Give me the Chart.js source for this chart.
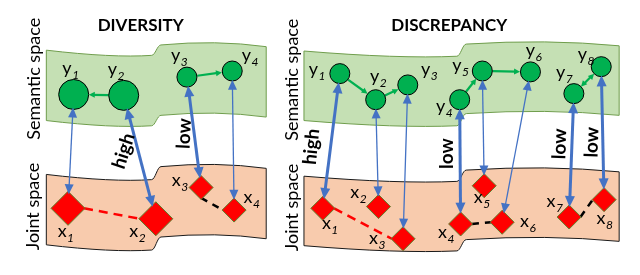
<!DOCTYPE html>
<html><head><meta charset="utf-8">
<script src="https://cdn.jsdelivr.net/npm/chart.js@4.4.1/dist/chart.umd.min.js"></script>
<style>html,body{margin:0;padding:0;background:#fff;}#wrap{width:640px;height:275px;}</style>
</head><body><div id="wrap"><canvas id="c" width="640" height="275"></canvas></div>
<script>
// ---------------- data ----------------
const panelTitles = ['DIVERSITY', 'DISCREPANCY'];
const spaceNames = ['Semantic space', 'Joint space'];

// DIVERSITY panel
const divNodeIds = ['1', '2', '3', '4'];
const divCircleX = [59, 112, 179, 227];
const divCircleY = [88, 89, 68, 61];
const divCircleR = [15, 15, 10, 10];
const divDiamondX = [53, 146, 194, 229];
const divDiamondY = [219, 231, 195, 221];
const divDiamondS = [17, 17, 12, 12];
const divStrength = [null, 'high', 'low', null];
const divSemanticLinks = [[1, 0, false], [2, 3, false]];
const divJointLinks = [[0, 'r', 1, 'l', 'red'], [2, 'b', 3, 'l', 'black']];

// DISCREPANCY panel
const disNodeIds = ['1', '2', '3', '4', '5', '6', '7', '8'];
const disCircleX = [341, 379, 413, 468, 492, 543, 589, 618];
const disCircleY = [64, 94, 77, 94, 61, 62, 87, 56];
const disCircleR = [10, 10, 10, 10, 10, 10, 10, 10];
const disDiamondX = [323, 382, 408, 469, 494, 513, 584, 621];
const disDiamondY = [219, 217, 254, 237, 193, 235, 229, 209];
const disDiamondS = [12, 12, 12, 12, 12, 12, 12, 12];
const disStrength = ['high', null, null, 'low', null, null, 'low', 'low'];
const disSemanticLinks = [[0, 1, false], [1, 2, false], [3, 4, false], [4, 5, false], [6, 7, true]];
const disJointLinks = [[0, 'r', 2, 'l', 'red'], [3, 'r', 5, 'l', 'black'], [6, 'r', 7, 'l', 'black']];

// ---------------- layout (positions of text / bands) ----------------
const divYLabelPos = [[47, 64], [95, 66], [162, 49], [237, 49]];
const divXLabelPos = [[42, 252], [118, 252], [163, 193], [239, 213]];
const disYLabelPos = [[308, 66], [373, 74], [427, 66], [443, 108], [460, 61], [538, 44], [570, 69], [593, 48]];
const disXLabelPos = [[322, 243], [352, 207], [372, 260], [445, 253], [483, 213], [532, 241], [560, 218], [613, 237]];
const divStrengthPos = {1: [112, 153, -72], 2: [176, 133, -87]};
const disStrengthPos = {0: [311, 148, -84], 3: [454, 156, -90], 6: [574, 145, -88], 7: [608, 143, -88]};
const titlePos = [[130, 9], [457, 9]];
const sidePos = [[[17, 70], [16, 217]], [[290, 71], [290, 218]]];

const bands = [
  {x0: 30, x1: 263, yL: 37, yR: 33, h: 81, fill: '#c5e0b4', stroke: '#6f9d4c'},
  {x0: 303, x1: 637, yL: 38, yR: 32, h: 80, fill: '#c5e0b4', stroke: '#6f9d4c'},
  {x0: 30, x1: 263, yL: 180, yR: 173, h: 81, fill: '#f8cbad', stroke: '#1a1a1a'},
  {x0: 303, x1: 637, yL: 182, yR: 177, h: 80, fill: '#f8cbad', stroke: '#1a1a1a'}
];

const FONT = 'Lato, "Open Sans", "Noto Sans", sans-serif';
const BLUE = '#4472c4', GREEN = '#00b050';

// ---------------- build datasets ----------------
const panels = [
  {cx: divCircleX, cy: divCircleY, cr: divCircleR, dx: divDiamondX, dy: divDiamondY, ds: divDiamondS,
   strength: divStrength, sem: divSemanticLinks, joint: divJointLinks},
  {cx: disCircleX, cy: disCircleY, cr: disCircleR, dx: disDiamondX, dy: disDiamondY, ds: disDiamondS,
   strength: disStrength, sem: disSemanticLinks, joint: disJointLinks}
];

function unit(ax, ay, bx, by) { const dx = bx - ax, dy = by - ay, l = Math.hypot(dx, dy); return [dx / l, dy / l]; }
function vertex(x, y, s, k) { return k === 'r' ? [x + s, y] : k === 'l' ? [x - s, y] : k === 'b' ? [x, y + s] : [x, y - s]; }

const datasets = [];
panels.forEach(p => {
  datasets.push({
    data: p.cx.map((x, i) => ({x: x, y: p.cy[i]})), pointStyle: 'circle', pointRadius: p.cr,
    backgroundColor: GREEN, borderColor: '#000', borderWidth: 1, order: 0, clip: false
  });
  datasets.push({
    data: p.dx.map((x, i) => ({x: x, y: p.dy[i]})), pointStyle: 'rectRot', pointRadius: p.ds,
    backgroundColor: '#ff0000', borderColor: '#5f7f2c', borderWidth: 1, order: 0, clip: false
  });
  // blue double-headed arrows between semantic and joint nodes
  p.cx.forEach((_, i) => {
    const [ux, uy] = unit(p.cx[i], p.cy[i], p.dx[i], p.dy[i]);
    const sx = p.cx[i] + ux * p.cr[i], sy = p.cy[i] + uy * p.cr[i];
    const t = p.ds[i] / (Math.abs(ux) + Math.abs(uy));
    const ex = p.dx[i] - ux * t, ey = p.dy[i] - uy * t;
    const thick = !!p.strength[i];
    const hl = thick ? 11 : 10, hw = thick ? 10 : 9;
    datasets.push({
      showLine: true, pointRadius: 0, order: 1, clip: false, tension: 0,
      borderColor: BLUE, borderWidth: thick ? 3 : 1.3,
      data: [{x: sx + ux * hl * 0.8, y: sy + uy * hl * 0.8}, {x: ex - ux * hl * 0.8, y: ey - uy * hl * 0.8}],
      arrowHeads: [[sx, sy, -ux, -uy, hl, hw, BLUE], [ex, ey, ux, uy, hl, hw, BLUE]]
    });
  });
  // green arrows in semantic space
  p.sem.forEach(([a, b, dbl]) => {
    const [ux, uy] = unit(p.cx[a], p.cy[a], p.cx[b], p.cy[b]);
    const sx = p.cx[a] + ux * (p.cr[a] + 1), sy = p.cy[a] + uy * (p.cr[a] + 1);
    const ex = p.cx[b] - ux * (p.cr[b] + 1), ey = p.cy[b] - uy * (p.cr[b] + 1);
    const hl = 6, hw = 6;
    const heads = [[ex, ey, ux, uy, hl, hw, GREEN]];
    if (dbl) heads.push([sx, sy, -ux, -uy, hl, hw, GREEN]);
    datasets.push({
      showLine: true, pointRadius: 0, order: 1, clip: false, tension: 0,
      borderColor: GREEN, borderWidth: 2.2,
      data: [{x: dbl ? sx + ux * hl * 0.7 : sx, y: dbl ? sy + uy * hl * 0.7 : sy}, {x: ex - ux * hl * 0.7, y: ey - uy * hl * 0.7}],
      arrowHeads: heads
    });
  });
  // dashed links in joint space
  p.joint.forEach(([a, ka, b, kb, col]) => {
    const s = vertex(p.dx[a], p.dy[a], p.ds[a], ka), e = vertex(p.dx[b], p.dy[b], p.ds[b], kb);
    datasets.push({
      showLine: true, pointRadius: 0, order: 1, clip: false, tension: 0,
      borderColor: col === 'red' ? '#ff0000' : '#000000', borderWidth: 2.5,
      borderDash: col === 'red' ? [9, 6] : [7, 6],
      data: [{x: s[0], y: s[1]}, {x: e[0], y: e[1]}]
    });
  });
});

// ---------------- plugins ----------------
const bandPlugin = {
  id: 'bands',
  beforeDatasetsDraw(chart) {
    const ctx = chart.ctx, X = v => chart.scales.x.getPixelForValue(v), Y = v => chart.scales.y.getPixelForValue(v);
    bands.forEach(b => {
      const W = b.x1 - b.x0, xm = b.x0 + W / 2;
      ctx.save();
      ctx.beginPath();
      ctx.moveTo(X(b.x0), Y(b.yL));
      ctx.quadraticCurveTo(X(b.x0 + 0.3 * W), Y(b.yL + 9), X(xm - 5), Y(b.yL + 6));
      ctx.bezierCurveTo(X(xm - 1), Y(b.yL + 6), X(xm + 1), Y(b.yR - 2), X(xm + 5), Y(b.yR - 2));
      ctx.quadraticCurveTo(X(b.x0 + 0.77 * W), Y(b.yR - 8), X(b.x1), Y(b.yR));
      ctx.lineTo(X(b.x1), Y(b.yR + b.h));
      ctx.quadraticCurveTo(X(b.x0 + 0.77 * W), Y(b.yR - 8 + b.h), X(xm + 5), Y(b.yR - 2 + b.h));
      ctx.bezierCurveTo(X(xm + 1), Y(b.yR - 2 + b.h), X(xm - 1), Y(b.yL + 6 + b.h), X(xm - 5), Y(b.yL + 6 + b.h));
      ctx.quadraticCurveTo(X(b.x0 + 0.3 * W), Y(b.yL + 9 + b.h), X(b.x0), Y(b.yL + b.h));
      ctx.closePath();
      ctx.fillStyle = b.fill; ctx.fill();
      ctx.lineWidth = 1; ctx.strokeStyle = b.stroke; ctx.stroke();
      ctx.restore();
    });
  }
};

const arrowPlugin = {
  id: 'arrows',
  afterDatasetsDraw(chart) {
    const ctx = chart.ctx, X = v => chart.scales.x.getPixelForValue(v), Y = v => chart.scales.y.getPixelForValue(v);
    chart.data.datasets.forEach(ds => {
      (ds.arrowHeads || []).forEach(([tx, ty, ux, uy, hl, hw, col]) => {
        const px = X(tx), py = Y(ty), nx = -uy, ny = ux;
        ctx.save();
        ctx.beginPath();
        ctx.moveTo(px, py);
        ctx.lineTo(px - ux * hl + nx * hw / 2, py - uy * hl + ny * hw / 2);
        ctx.lineTo(px - ux * hl - nx * hw / 2, py - uy * hl - ny * hw / 2);
        ctx.closePath();
        ctx.fillStyle = col; ctx.fill();
        ctx.restore();
      });
    });
  }
};

function txt(ctx, s, x, y, font, rot, align, base) {
  ctx.save();
  ctx.translate(x, y);
  if (rot) ctx.rotate(rot * Math.PI / 180);
  ctx.font = font; ctx.fillStyle = '#000';
  ctx.textAlign = align || 'center'; ctx.textBaseline = base || 'middle';
  ctx.fillText(s, 0, 0);
  ctx.restore();
}
function nodeLabel(ctx, letter, sub, x, y) {
  ctx.save();
  ctx.font = '18px ' + FONT; ctx.fillStyle = '#000';
  ctx.textAlign = 'left'; ctx.textBaseline = 'alphabetic';
  ctx.fillText(letter, x, y);
  const w = ctx.measureText(letter).width;
  ctx.font = 'italic 12px ' + FONT;
  ctx.fillText(sub, x + w + 0.5, y + 5);
  ctx.restore();
}

const textPlugin = {
  id: 'texts',
  afterDraw(chart) {
    const ctx = chart.ctx, X = v => chart.scales.x.getPixelForValue(v), Y = v => chart.scales.y.getPixelForValue(v);
    panelTitles.forEach((t, i) => txt(ctx, t, X(titlePos[i][0]), Y(titlePos[i][1]), 'bold 17px ' + FONT));
    sidePos.forEach(pp => pp.forEach((q, j) => txt(ctx, spaceNames[j], X(q[0]), Y(q[1]), '18px ' + FONT, -90)));
    const lab = [[divNodeIds, divYLabelPos, divXLabelPos], [disNodeIds, disYLabelPos, disXLabelPos]];
    lab.forEach(([ids, yp, xp]) => {
      ids.forEach((id, i) => {
        nodeLabel(ctx, 'y', id, X(yp[i][0]), Y(yp[i][1]));
        nodeLabel(ctx, 'x', id, X(xp[i][0]), Y(xp[i][1]));
      });
    });
    [[divStrength, divStrengthPos], [disStrength, disStrengthPos]].forEach(([st, pos]) => {
      st.forEach((s, i) => {
        if (!s) return;
        const q = pos[i];
        txt(ctx, s, X(q[0]), Y(q[1]), 'bold 19px ' + FONT, q[2]);
      });
    });
  }
};

new Chart(document.getElementById('c'), {
  type: 'scatter',
  data: {datasets: datasets},
  options: {
    responsive: false, animation: false, maintainAspectRatio: false,
    layout: {padding: 0},
    events: [],
    plugins: {legend: {display: false}, tooltip: {enabled: false}},
    scales: {
      x: {type: 'linear', min: 0, max: 640, display: false},
      y: {type: 'linear', min: 0, max: 275, reverse: true, display: false}
    }
  },
  plugins: [bandPlugin, arrowPlugin, textPlugin]
});
</script></body></html>
